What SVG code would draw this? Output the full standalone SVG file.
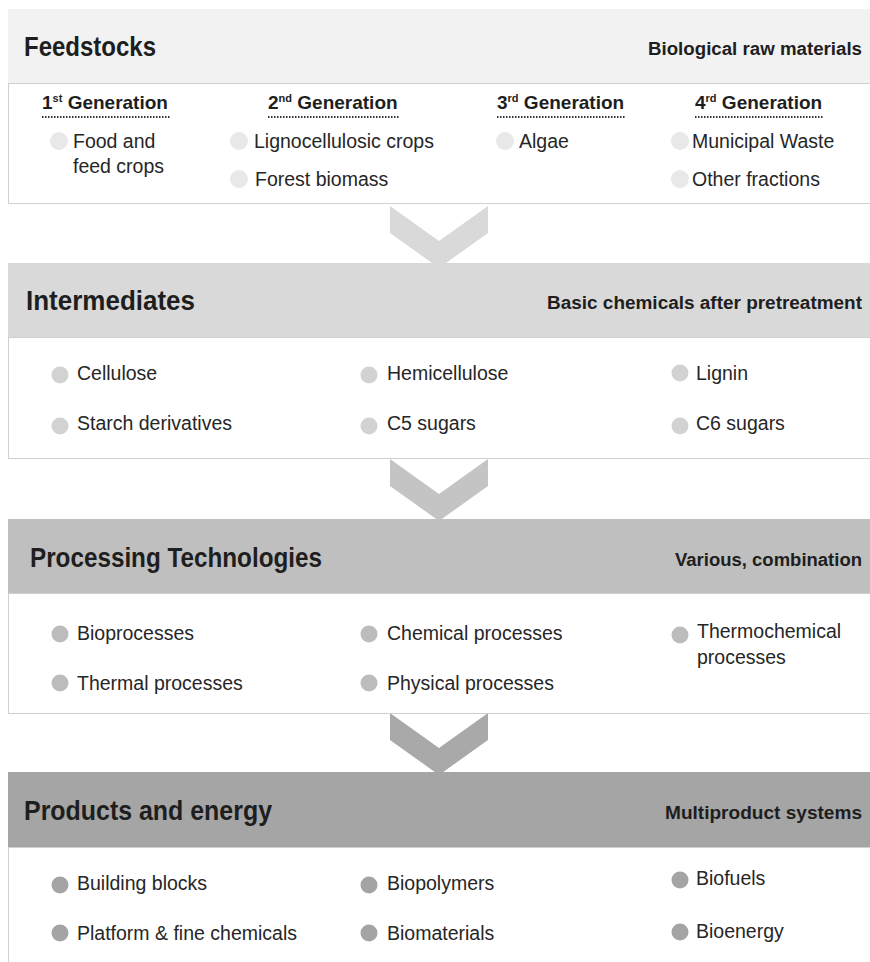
<svg xmlns="http://www.w3.org/2000/svg" width="870" height="962" viewBox="0 0 870 962">
<style>
text{font-family:"Liberation Sans",Arial,sans-serif;fill:#1e1e1e}
.title{font-size:28px;font-weight:bold}
.sub{font-size:18px;font-weight:bold;text-anchor:end}
.gen{font-size:19px;font-weight:bold}
.sup{font-size:11px}
.item{font-size:19.5px;fill:#262626}
.body{fill:#fff;stroke:#d0d0d0;stroke-width:1}
.dots{stroke:#333;stroke-width:2;stroke-dasharray:1.5 1.5}
.c1{fill:#e8e8e8}.c2{fill:#d2d2d2}.c3{fill:#bcbcbc}.c4{fill:#a4a4a4}
</style>
<rect width="870" height="962" fill="#fff"/>
<g id="connectors">
<polygon points="390,206 439,241 488,206 488,233 439,268 390,233" fill="#d9d9d9"/>
<polygon points="390,459 439,494 488,459 488,486 439,521 390,486" fill="#c4c4c4"/>
<polygon points="390,713 439,748 488,713 488,740 439,775 390,740" fill="#a9a9a9"/>
</g>
<g id="feedstocks">
<rect x="8.5" y="83.5" width="870" height="120" class="body"/>
<rect x="8" y="9" width="862" height="74" fill="#f2f2f2"/>
<text x="24" y="56" class="title" textLength="132" lengthAdjust="spacingAndGlyphs">Feedstocks</text>
<text x="862" y="55" class="sub" textLength="214" lengthAdjust="spacingAndGlyphs">Biological raw materials</text>
<text x="42" y="109" class="gen">1<tspan class="sup" dy="-7">st</tspan><tspan dy="7"> Generation</tspan></text>
<line x1="42" y1="117" x2="170" y2="117" class="dots"/>
<text x="268" y="109" class="gen">2<tspan class="sup" dy="-7">nd</tspan><tspan dy="7"> Generation</tspan></text>
<line x1="268" y1="117" x2="399" y2="117" class="dots"/>
<text x="497" y="109" class="gen">3<tspan class="sup" dy="-7">rd</tspan><tspan dy="7"> Generation</tspan></text>
<line x1="497" y1="117" x2="626" y2="117" class="dots"/>
<text x="695" y="109" class="gen">4<tspan class="sup" dy="-7">rd</tspan><tspan dy="7"> Generation</tspan></text>
<line x1="695" y1="117" x2="824" y2="117" class="dots"/>
<circle cx="59" cy="141" r="9" class="c1"/>
<text x="73" y="148" class="item">Food and</text>
<text x="73" y="173" class="item">feed crops</text>
<circle cx="239" cy="141" r="9" class="c1"/>
<text x="254" y="148" class="item">Lignocellulosic crops</text>
<circle cx="239" cy="179" r="9" class="c1"/>
<text x="255" y="186" class="item">Forest biomass</text>
<circle cx="505" cy="141" r="9" class="c1"/>
<text x="519" y="148" class="item">Algae</text>
<circle cx="680" cy="141" r="9" class="c1"/>
<text x="692" y="148" class="item">Municipal Waste</text>
<circle cx="680" cy="179" r="9" class="c1"/>
<text x="692" y="186" class="item">Other fractions</text>
</g>
<g id="intermediates">
<rect x="8.5" y="337.5" width="870" height="121" class="body"/>
<rect x="8" y="263" width="862" height="74" fill="#d9d9d9"/>
<text x="26" y="310" class="title" textLength="169" lengthAdjust="spacingAndGlyphs">Intermediates</text>
<text x="862" y="309" class="sub" textLength="315" lengthAdjust="spacingAndGlyphs">Basic chemicals after pretreatment</text>
<circle cx="60" cy="375" r="8.5" class="c2"/>
<text x="77" y="380" class="item">Cellulose</text>
<circle cx="60" cy="426" r="8.5" class="c2"/>
<text x="77" y="430" class="item">Starch derivatives</text>
<circle cx="369" cy="375" r="8.5" class="c2"/>
<text x="387" y="380" class="item">Hemicellulose</text>
<circle cx="369" cy="426" r="8.5" class="c2"/>
<text x="387" y="430" class="item">C5 sugars</text>
<circle cx="680" cy="373" r="8.5" class="c2"/>
<text x="696" y="380" class="item">Lignin</text>
<circle cx="680" cy="426" r="8.5" class="c2"/>
<text x="696" y="430" class="item">C6 sugars</text>
</g>
<g id="processing">
<rect x="8.5" y="593.5" width="870" height="120" class="body"/>
<rect x="8" y="519" width="862" height="74" fill="#bfbfbf"/>
<text x="30" y="567" class="title" textLength="292" lengthAdjust="spacingAndGlyphs">Processing Technologies</text>
<text x="862" y="566" class="sub" textLength="187" lengthAdjust="spacingAndGlyphs">Various, combination</text>
<circle cx="60" cy="634" r="8.5" class="c3"/>
<text x="77" y="640" class="item">Bioprocesses</text>
<circle cx="60" cy="683" r="8.5" class="c3"/>
<text x="77" y="690" class="item">Thermal processes</text>
<circle cx="369" cy="634" r="8.5" class="c3"/>
<text x="387" y="640" class="item">Chemical processes</text>
<circle cx="369" cy="683" r="8.5" class="c3"/>
<text x="387" y="690" class="item">Physical processes</text>
<circle cx="680" cy="635" r="8.5" class="c3"/>
<text x="697" y="638" class="item">Thermochemical</text>
<text x="697" y="664" class="item">processes</text>
</g>
<g id="products">
<rect x="8.5" y="847.5" width="870" height="130" class="body"/>
<rect x="8" y="772" width="862" height="75" fill="#a5a5a5"/>
<text x="24" y="820" class="title" textLength="248" lengthAdjust="spacingAndGlyphs">Products and energy</text>
<text x="862" y="819" class="sub" textLength="197" lengthAdjust="spacingAndGlyphs">Multiproduct systems</text>
<circle cx="60" cy="885" r="8.5" class="c4"/>
<text x="77" y="890" class="item">Building blocks</text>
<circle cx="60" cy="933" r="8.5" class="c4"/>
<text x="77" y="940" class="item">Platform &amp; fine chemicals</text>
<circle cx="369" cy="885" r="8.5" class="c4"/>
<text x="387" y="890" class="item">Biopolymers</text>
<circle cx="369" cy="933" r="8.5" class="c4"/>
<text x="387" y="940" class="item">Biomaterials</text>
<circle cx="680" cy="880" r="8.5" class="c4"/>
<text x="696" y="885" class="item">Biofuels</text>
<circle cx="680" cy="932" r="8.5" class="c4"/>
<text x="696" y="938" class="item">Bioenergy</text>
</g>
</svg>
